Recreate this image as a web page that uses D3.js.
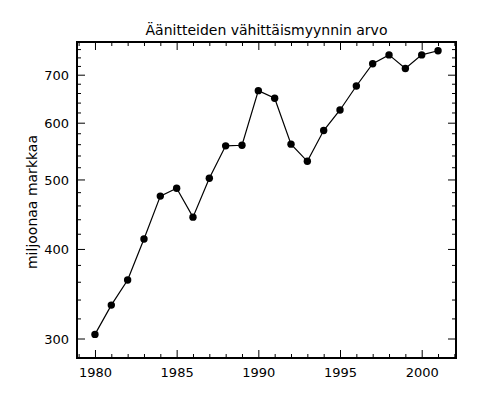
<!DOCTYPE html>
<html>
<head>
<meta charset="utf-8">
<script src="https://cdn.jsdelivr.net/npm/d3@7"></script>
<style>
  body { margin: 0; background: #fff; }
  svg { display: block; }
  text { font-family: "DejaVu Sans", sans-serif; fill: #000; }
</style>
</head>
<body>
<svg id="chart" width="480" height="400"></svg>
<script>
var years = [1980, 1981, 1982, 1983, 1984, 1985, 1986, 1987, 1988, 1989, 1990,
  1991, 1992, 1993, 1994, 1995, 1996, 1997, 1998, 1999, 2000, 2001];
var values = [304, 334, 362, 413, 474, 486, 443, 502, 557, 558, 665,
  649, 560, 530, 585, 625, 675, 725, 746, 714, 746, 756];
var yMajorTicks = [300, 400, 500, 600, 700];
var xMajorTicks = [1980, 1985, 1990, 1995, 2000];
var title = "Äänitteiden vähittäismyynnin arvo";
var yLabel = "miljoonaa markkaa";

var svg = d3.select("svg"),
  plotLeft = 77, plotRight = 456, plotTop = 42, plotBottom = 358;

var x = d3.scaleLinear().domain([1978.9, 2002.1]).range([plotLeft, plotRight]);
var y = d3.scaleLog().domain([281.8, 777.5]).range([plotBottom, plotTop]);

// minor ticks: every year, every 20 units
var xMinor = d3.range(1979, 2003).filter(function (d) { return xMajorTicks.indexOf(d) < 0; });
var yMinor = d3.range(300, 780, 20).filter(function (d) { return yMajorTicks.indexOf(d) < 0; });

function addAxis(axis, major, minor, transform) {
  var g = svg.append("g").attr("transform", transform);
  g.call(axis.tickValues(minor).tickSize(-4).tickFormat(""));
  var g2 = svg.append("g").attr("transform", transform);
  g2.call(axis.tickValues(major).tickSize(-8).tickFormat(d3.format("d")));
  [g, g2].forEach(function (s) {
    s.select(".domain").remove();
    s.selectAll("line").attr("stroke", "#000").attr("stroke-width", 1);
  });
  return g2;
}

var gx = addAxis(d3.axisBottom(x), xMajorTicks, xMinor, "translate(0," + plotBottom + ")");
gx.selectAll("text").attr("font-size", 13).attr("dy", "0").attr("y", 19);
var gxTop = addAxis(d3.axisTop(x), xMajorTicks, xMinor, "translate(0," + plotTop + ")");
gxTop.selectAll("text").remove();

var gy = addAxis(d3.axisLeft(y), yMajorTicks, yMinor, "translate(" + plotLeft + ",0)");
gy.selectAll("text").attr("font-size", 13).attr("x", -8).attr("dy", "0.36em");
var gyRight = addAxis(d3.axisRight(y), yMajorTicks, yMinor, "translate(" + plotRight + ",0)");
gyRight.selectAll("text").remove();

svg.append("rect")
  .attr("x", plotLeft).attr("y", plotTop)
  .attr("width", plotRight - plotLeft).attr("height", plotBottom - plotTop)
  .attr("fill", "none").attr("stroke", "#000").attr("stroke-width", 2);

var line = d3.line()
  .x(function (d, i) { return x(years[i]); })
  .y(function (d) { return y(d); });

svg.append("path")
  .datum(values)
  .attr("d", line)
  .attr("fill", "none")
  .attr("stroke", "#000")
  .attr("stroke-width", 1.2);

svg.append("g")
  .selectAll("circle")
  .data(values)
  .enter().append("circle")
  .attr("cx", function (d, i) { return x(years[i]); })
  .attr("cy", function (d) { return y(d); })
  .attr("r", 3.7)
  .attr("fill", "#000");

svg.append("text")
  .attr("x", (plotLeft + plotRight) / 2)
  .attr("y", 35)
  .attr("text-anchor", "middle")
  .attr("font-size", 14)
  .text(title);

svg.append("text")
  .attr("transform", "translate(37," + 202 + ") rotate(-90)")
  .attr("text-anchor", "middle")
  .attr("font-size", 14)
  .text(yLabel);
</script>
</body>
</html>
